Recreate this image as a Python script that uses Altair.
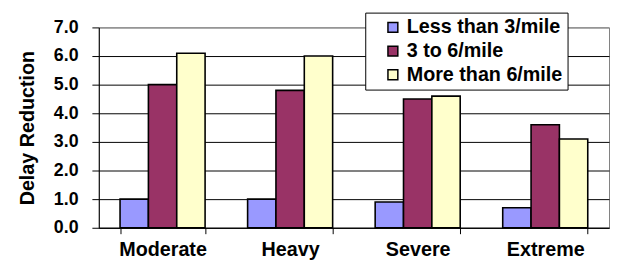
import altair as alt
import pandas as pd

categories = ["Moderate", "Heavy", "Severe", "Extreme"]
series = ["Less than 3/mile", "3 to 6/mile", "More than 6/mile"]
less_than_3 = [1.0, 1.0, 0.9, 0.7]
three_to_6 = [5.0, 4.8, 4.5, 3.6]
more_than_6 = [6.1, 6.0, 4.6, 3.1]
colors = ["#9999FF", "#993366", "#FFFFCC"]

rows = []
for vals, s in zip([less_than_3, three_to_6, more_than_6], series):
    for c, v in zip(categories, vals):
        rows.append({"Category": c, "Series": s, "Value": v})
df = pd.DataFrame(rows)

FONT = "Liberation Sans"

chart = alt.Chart(df).mark_bar(stroke="black", strokeWidth=1.6).encode(
    x=alt.X("Category:N", sort=categories,
            scale=alt.Scale(paddingInner=1/3, paddingOuter=1/6),
            axis=alt.Axis(title=None, labelAngle=0, tickBand="extent",
                          tickSize=6, tickColor="black", domainColor="black",
                          labelFont=FONT, labelFontWeight="bold", labelFontSize=20,
                          labelColor="black", labelPadding=6, grid=False)),
    xOffset=alt.XOffset("Series:N", sort=series, scale=alt.Scale(paddingInner=0, paddingOuter=0)),
    y=alt.Y("Value:Q", scale=alt.Scale(domain=[0, 7]),
            axis=alt.Axis(title="Delay Reduction", values=[0, 1, 2, 3, 4, 5, 6, 7],
                          format=".1f", tickSize=7, tickColor="black", domainColor="black",
                          gridColor=alt.condition("datum.value == 7", alt.value("#808080"), alt.value("black")),
                          gridWidth=1,
                          labelFont=FONT, labelFontWeight="bold", labelFontSize=18,
                          labelColor="black", labelPadding=14,
                          titleFont=FONT, titleFontWeight="bold", titleFontSize=20,
                          titleColor="black", titlePadding=16)),
    color=alt.Color("Series:N", sort=series,
                    scale=alt.Scale(domain=series, range=colors),
                    legend=alt.Legend(title=None, orient="none", legendX=270, legendY=-15,
                                      fillColor="white", strokeColor="black", padding=5,
                                      symbolOffset=13, symbolType="square", symbolSize=100,
                                      symbolStrokeColor="black", symbolStrokeWidth=1.5,
                                      labelFont=FONT, labelFontWeight="bold", labelFontSize=20,
                                      labelColor="black", rowPadding=4, labelLimit=300,
                                      labelOffset=4, labelExpr="datum.label + '  '")),
).properties(
    width=517, height=203,
    autosize=alt.AutoSizeParams(type="none"),
    padding={"left": 92, "top": 18, "right": 1, "bottom": 32},
).configure_view(stroke="#808080", strokeWidth=1)

chart.save("out.html", embed_options={"renderer": "svg", "actions": False})
